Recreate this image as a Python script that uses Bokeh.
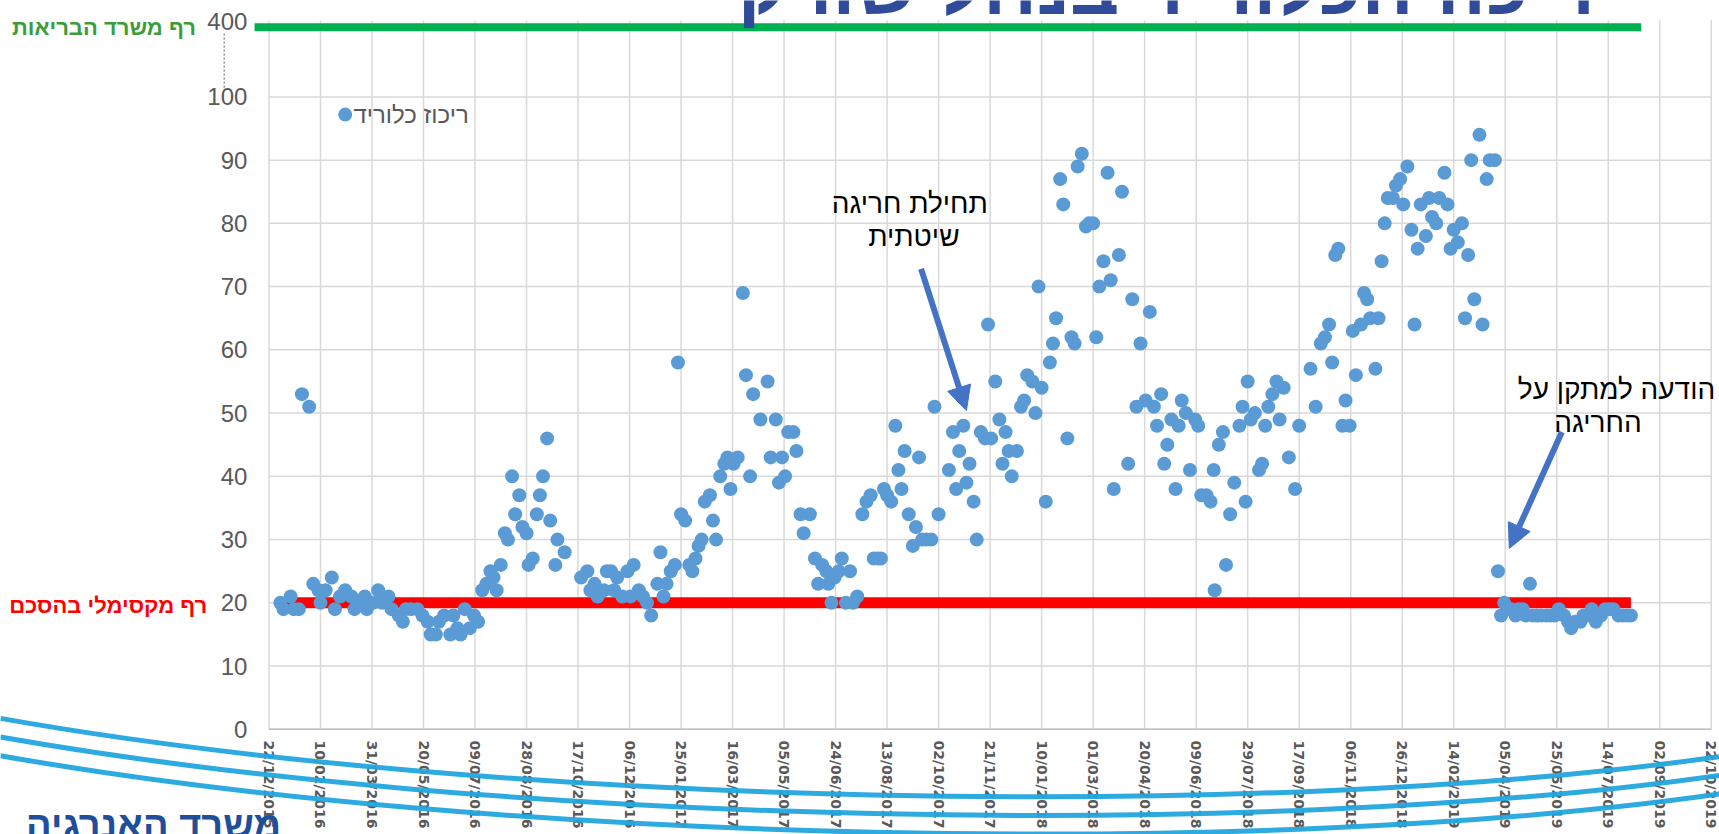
import math
import pandas as pd
from bokeh.plotting import figure
from bokeh.models import Label, Arrow, NormalHead, Range1d, ColumnDataSource
from bokeh.core.properties import value
from bokeh.embed import file_html
from bokeh.resources import INLINE

# ---------------- data ----------------
start_date = "2015-12-22"
# sampling day, counted in days from start_date
sample_day = [
    11, 14, 21, 24, 29, 32, 39, 43, 48, 50,
    55, 61, 64, 69, 74, 80, 83, 87, 93, 95,
    101, 106, 110, 116, 119, 126, 130, 133, 138, 144,
    149, 154, 157, 162, 165, 170, 176, 179, 183, 186,
    190, 195, 199, 203, 207, 211, 215, 218, 221, 225,
    229, 232, 236, 239, 243, 246, 250, 252, 256, 260,
    263, 266, 270, 273, 278, 280, 287, 303, 309, 312,
    316, 319, 325, 328, 332, 335, 338, 343, 348, 351,
    354, 359, 363, 367, 371, 377, 380, 383, 386, 390,
    394, 397, 400, 404, 408, 411, 414, 417, 420, 423,
    428, 431, 434, 438, 442, 445, 448, 451, 455, 460,
    463, 467, 470, 477, 484, 487, 492, 495, 498, 501,
    504, 509, 512, 516, 519, 525, 530, 533, 537, 541,
    543, 546, 549, 553, 556, 560, 564, 567, 571, 576,
    580, 584, 587, 591, 594, 597, 600, 604, 608, 611,
    614, 617, 621, 625, 628, 631, 634, 638, 643, 646,
    650, 660, 664, 667, 670, 674, 677, 680, 684, 687,
    691, 695, 698, 701, 705, 709, 712, 715, 718, 721,
    726, 730, 733, 736, 741, 744, 747, 750, 754, 758,
    761, 764, 768, 771, 775, 779, 782, 785, 789, 793,
    796, 800, 803, 806, 810, 814, 817, 820, 825, 828,
    834, 838, 842, 846, 851, 855, 859, 862, 866, 869,
    872, 876, 880, 883, 886, 890, 894, 899, 902, 905,
    910, 914, 917, 918, 922, 926, 929, 933, 937, 942,
    945, 948, 950, 953, 957, 961, 964, 967, 970, 974,
    978, 981, 985, 990, 996, 1000, 1011, 1016, 1021, 1025,
    1029, 1032, 1035, 1038, 1042, 1045, 1049, 1052, 1055, 1060,
    1063, 1066, 1069, 1074, 1077, 1080, 1083, 1086, 1091, 1094,
    1098, 1101, 1105, 1109, 1112, 1115, 1118, 1123, 1126, 1129,
    1133, 1136, 1141, 1144, 1147, 1150, 1154, 1158, 1161, 1164,
    1167, 1170, 1175, 1178, 1182, 1185, 1190, 1193, 1196, 1199,
    1202, 1206, 1210, 1213, 1217, 1220, 1224, 1227, 1231, 1235,
    1240, 1244, 1248, 1252, 1257, 1261, 1264, 1268, 1273, 1276,
    1280, 1284, 1288, 1293, 1297, 1301, 1305, 1310, 1314, 1318,
    1322,
]
chloride = [
    20, 19, 21, 19, 19, 53, 51, 23, 22, 20,
    22, 24, 19, 21, 22, 21, 19, 20, 21, 19,
    20, 22, 20, 21, 19, 18, 17, 19, 19, 19,
    18, 17, 15, 15, 17, 18, 15, 18, 16, 15,
    19, 16, 18, 17, 22, 23, 25, 24, 22, 26,
    31, 30, 40, 34, 37, 32, 31, 26, 27, 34,
    37, 40, 46, 33, 26, 30, 28, 24, 25, 22,
    23, 21, 22, 25, 25, 22, 24, 21, 25, 21,
    26, 22, 21, 20, 18, 23, 28, 21, 23, 25,
    26, 58, 34, 33, 26, 25, 27, 29, 30, 36,
    37, 33, 30, 40, 42, 43, 38, 42, 43, 69,
    56, 40, 53, 49, 55, 43, 49, 39, 43, 40,
    47, 47, 44, 34, 31, 34, 27, 23, 26, 25,
    23, 20, 24, 25, 27, 20, 25, 20, 21, 34,
    36, 37, 27, 27, 27, 38, 37, 36, 48, 41,
    38, 44, 34, 29, 32, 43, 30, 30, 30, 51,
    34, 41, 47, 38, 44, 48, 39, 42, 36, 30,
    47, 46, 64, 46, 55, 49, 42, 47, 44, 40,
    44, 51, 52, 56, 55, 50, 70, 54, 36, 58,
    61, 65, 87, 83, 46, 62, 61, 89, 91, 79.5,
    80, 80, 62, 70, 74, 88, 71, 38, 75, 85,
    42, 68, 51, 61, 52, 66, 51, 48, 53, 42,
    45, 49, 38, 48, 52, 50, 41, 49, 48, 37,
    37, 36, 41, 22, 45, 47, 26, 34, 39, 48,
    51, 36, 55, 49, 50, 41, 42, 48, 51, 53,
    55, 49, 54, 43, 38, 48, 57, 51, 61, 62,
    64, 58, 75, 76, 48, 52, 48, 63, 56, 64,
    69, 68, 65, 57, 65, 74, 80, 84, 84, 86,
    87, 83, 89, 79, 64, 76, 83, 78, 84, 81,
    80, 84, 88, 83, 76, 79, 77, 80, 65, 75,
    90, 68, 94, 64, 87, 90, 90, 25, 18, 20,
    19, 19, 18, 19, 19, 18, 23, 18, 18, 18,
    18, 18, 18, 19, 18, 17, 16, 17, 17, 18,
    18, 19, 17, 18, 19, 19, 19, 18, 18, 18,
    18,
]
tick_labels = ["22/12/2015", "10/02/2016", "31/03/2016", "20/05/2016", "09/07/2016",
               "28/08/2016", "17/10/2016", "06/12/2016", "25/01/2017", "16/03/2017",
               "05/05/2017", "24/06/2017", "13/08/2017", "02/10/2017", "21/11/2017",
               "10/01/2018", "01/03/2018", "20/04/2018", "09/06/2018", "29/07/2018",
               "17/09/2018", "06/11/2018", "26/12/2018", "14/02/2019", "05/04/2019",
               "25/05/2019", "14/07/2019", "02/09/2019", "22/10/2019"]
y_ticks = [0, 10, 20, 30, 40, 50, 60, 70, 80, 90, 100]
agreement_limit = 20          # רף מקסימלי בהסכם
health_limit = 400            # רף משרד הבריאות
series_name = "ריכוז כלוריד"
title_text = "ריכוז הכלוריד בנחל שורק"
logo_text = "משרד האנרגיה"

# ---------------- helpers ----------------
EPOCH = pd.Timestamp("1970-01-01")
T0 = pd.Timestamp(start_date)


def ms(ts):
    return (ts - EPOCH) / pd.Timedelta(milliseconds=1)


def day_ms(d):
    return ms(T0 + pd.Timedelta(days=d))


def disp(v):
    # broken value axis: 100..400 compressed into 100..111
    return v if v <= 100 else 100 + (v - 100) * 11 / 300


tick_ms = [ms(pd.to_datetime(t, dayfirst=True)) for t in tick_labels]
dates = [T0 + pd.Timedelta(days=d) for d in sample_day]
src = ColumnDataSource(dict(x=dates, y=chloride))

BLUE = "#5B9BD5"
GREY = "#595959"
GRID = "#D9D9D9"
ARROW = "#4472C4"
HEB = "Liberation Sans"

x_lo, x_hi = tick_ms[0], tick_ms[-1]
p = figure(width=1719, height=834, x_axis_type="datetime",
           x_axis_location=None, y_axis_location=None,
           x_range=Range1d(day_ms(-260.6), day_ms(1408.0)),
           y_range=Range1d(-16.63, 115.24),
           output_backend="svg", toolbar_location=None,
           min_border=0)
p.outline_line_color = None
p.grid.visible = False
p.background_fill_color = "white"

# ---- grid (plot area 0..100, vertical lines up to the broken-axis zone) ----
p.segment(x0=tick_ms, y0=[0] * len(tick_ms), x1=tick_ms, y1=[112.1] * len(tick_ms),
          line_color=GRID, line_width=1.5)
p.segment(x0=[x_lo] * len(y_ticks), y0=y_ticks, x1=[x_hi] * len(y_ticks), y1=y_ticks,
          line_color=GRID, line_width=1.5)
p.segment(x0=[x_lo], y0=[0], x1=[x_hi], y1=[0], line_color="#BFBFBF", line_width=1.5)

# ---- y tick labels ----
p.text(x=[day_ms(-21)] * len(y_ticks), y=y_ticks, text=[str(t) for t in y_ticks],
       text_align="right", text_baseline="middle", text_font=value(HEB),
       text_font_size=value("24px"), text_color=GREY)
p.text(x=[day_ms(-21)], y=[disp(health_limit)], text=[str(health_limit)],
       text_align="right", text_baseline="middle", text_font=value(HEB),
       text_font_size=value("24px"), text_color=GREY, y_offset=-6)
# axis-break dashed line
p.line(x=[day_ms(-43.5), day_ms(-43.5)], y=[110, 101.4], line_color=GREY,
       line_width=1, line_dash="2 2")

# ---- x tick labels (rotated, reading downwards) ----
p.text(x=tick_ms, y=[-1.75] * len(tick_ms), text=tick_labels, angle=-math.pi / 2,
       text_align="left", text_baseline="middle", text_font=value("DejaVu Sans"),
       text_font_style="bold", text_font_size=value("14px"), text_color=GREY)

# ---- decorative slide swooshes along the bottom ----
for k in range(3):
    dy = -2.95 * k
    p.bezier(x0=[day_ms(-260.7)], y0=[1.73 + dy], x1=[day_ms(1407.7)], y1=[-4.33 + dy],
             cx0=[day_ms(218)], cy0=[-12.1 + dy], cx1=[day_ms(963)], cy1=[-14.7 + dy],
             line_color="#22A5DE", line_width=5, line_alpha=0.95)

# ---- threshold lines ----
p.line(x=[dates[0], dates[-1]], y=[agreement_limit, agreement_limit],
       line_color="#FF0000", line_width=11)
p.line(x=[T0 - pd.Timedelta(days=14), dates[-1] + pd.Timedelta(days=10)],
       y=[disp(health_limit), disp(health_limit)],
       line_color="#00B050", line_width=8)

# ---- data ----
p.scatter("x", "y", source=src, size=14, fill_color=BLUE, line_color=None)

# ---- legend (top-left) ----
p.scatter(x=[T0 + pd.Timedelta(days=74)], y=[97.2], size=14,
          fill_color=BLUE, line_color=None)
p.add_layout(Label(x=day_ms(82), y=97.2, text=series_name, text_align="left",
                   text_baseline="middle", text_font=HEB,
                   text_font_size="24px", text_color=GREY))

# ---- threshold labels (left side) ----
p.add_layout(Label(x=day_ms(-71), y=disp(health_limit), text="רף משרד הבריאות",
                   text_align="right", text_baseline="middle", text_font=HEB,
                   text_font_style="bold", text_font_size="22px",
                   text_color="#3A9D3A"))
p.add_layout(Label(x=day_ms(-60), y=agreement_limit - 0.4, text="רף מקסימלי בהסכם",
                   text_align="right", text_baseline="middle", text_font=HEB,
                   text_font_style="bold", text_font_size="22px",
                   text_color="#FF0000"))

# ---- annotations ----
p.add_layout(Label(x=day_ms(622), y=83.2, text="תחילת חריגה", text_align="center",
                   text_baseline="middle", text_font=HEB,
                   text_font_size="28px", text_color="black"))
p.add_layout(Label(x=day_ms(626), y=78.0, text="שיטתית", text_align="center",
                   text_baseline="middle", text_font=HEB,
                   text_font_size="28px", text_color="black"))
p.add_layout(Arrow(end=NormalHead(size=24, fill_color=ARROW, line_color=ARROW),
                   x_start=day_ms(633), y_start=72.8, x_end=day_ms(677), y_end=50.4,
                   line_color=ARROW, line_width=6))

p.add_layout(Label(x=day_ms(1308), y=53.7, text="הודעה למתקן על", text_align="center",
                   text_baseline="middle", text_font=HEB,
                   text_font_size="28px", text_color="black"))
p.add_layout(Label(x=day_ms(1290), y=48.5, text="החריגה", text_align="center",
                   text_baseline="middle", text_font=HEB,
                   text_font_size="28px", text_color="black"))
p.add_layout(Arrow(end=NormalHead(size=24, fill_color=ARROW, line_color=ARROW),
                   x_start=day_ms(1255), y_start=47.0, x_end=day_ms(1204), y_end=28.6,
                   line_color=ARROW, line_width=6))

# ---- slide title (cut at the top) and ministry name (bottom-left) ----
p.add_layout(Label(x=day_ms(871), y=117.4, text=title_text, text_align="center",
                   text_baseline="alphabetic", text_font=HEB,
                   text_font_style="bold", text_font_size="77px",
                   text_color="#2F4B9A"))
p.add_layout(Label(x=day_ms(-112), y=-15.1, text=logo_text, text_align="center",
                   text_baseline="alphabetic", text_font=HEB,
                   text_font_style="bold", text_font_size="38px",
                   text_color="#1F4E9A"))

open("out.html", "w").write(file_html(p, INLINE))
